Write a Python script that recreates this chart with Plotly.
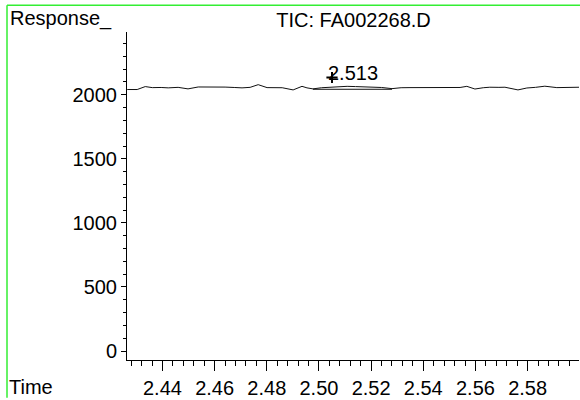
import plotly.graph_objects as go

# ---- data ----
time_min = [2.4265, 2.4303, 2.4334, 2.4361, 2.4395, 2.4422, 2.4460, 2.4498, 2.4537, 2.4570,
            2.4605, 2.4640, 2.4675, 2.4705, 2.4736, 2.4767, 2.4801, 2.4830, 2.4859, 2.4901,
            2.4935, 2.4954, 2.4977, 2.5010, 2.5043, 2.5076, 2.5108, 2.5140, 2.5177, 2.5210,
            2.5240, 2.5280, 2.5315, 2.5349, 2.5390, 2.5430, 2.5464, 2.5500, 2.5541, 2.5567,
            2.5598, 2.5630, 2.5655, 2.5690, 2.5713, 2.5763, 2.5797, 2.5830, 2.5866, 2.5912,
            2.5950, 2.6000]
response = [2041, 2041, 2064, 2056, 2057, 2054, 2058, 2046, 2061, 2062,
            2061, 2060, 2057, 2054, 2058, 2079, 2056, 2057, 2055, 2038,
            2066, 2054, 2046, 2055, 2060, 2063, 2066, 2064, 2063, 2060,
            2057, 2048, 2055, 2056, 2055, 2056, 2057, 2056, 2057, 2066,
            2045, 2055, 2059, 2058, 2059, 2038, 2053, 2058, 2067, 2056,
            2058, 2059]
baseline_time = [2.4977, 2.5280]
baseline_resp = [2043, 2043]
peak_rt = 2.513
peak_label_resp = 2170
apex_mark_time = [2.5050]
apex_mark_resp = [2135]
x_ticks = [2.44, 2.46, 2.48, 2.50, 2.52, 2.54, 2.56, 2.58]
y_ticks = [0, 500, 1000, 1500, 2000]

FONT = "Liberation Sans, Arial, sans-serif"
W, H = 580, 400
L, R, T, B = 127, 1, 32, 38
pw, ph = W - L - R, H - T - B

def px2paper_x(px):
    return (px - L) / pw

def px2paper_y(py):
    return (H - B - py) / ph

fig = go.Figure()
fig.add_trace(go.Scatter(x=time_min, y=response, mode="lines",
                         line=dict(color="#111111", width=1), hoverinfo="skip", showlegend=False))
fig.add_trace(go.Scatter(x=baseline_time, y=baseline_resp, mode="lines",
                         line=dict(color="#111111", width=1), hoverinfo="skip", showlegend=False))
fig.add_trace(go.Scatter(x=apex_mark_time, y=apex_mark_resp, mode="markers",
                         marker=dict(symbol="cross-thin", size=8, line=dict(color="black", width=2)),
                         hoverinfo="skip", showlegend=False))

fig.add_annotation(x=peak_rt, y=peak_label_resp, xref="x", yref="y", text=f"{peak_rt:.3f}",
                   showarrow=False, font=dict(family=FONT, size=20, color="black"),
                   xanchor="center", yanchor="middle")

fig.add_annotation(x=px2paper_x(8), y=px2paper_y(18), xref="paper", yref="paper", text="Response_",
                   showarrow=False, font=dict(family=FONT, size=20, color="black"),
                   xanchor="left", yanchor="middle")
fig.add_annotation(x=px2paper_x(7), y=px2paper_y(389), xref="paper", yref="paper", text="Time",
                   showarrow=False, font=dict(family=FONT, size=20, color="black"),
                   xanchor="left", yanchor="middle")

# green frame (left and top)
fig.add_shape(type="line", xref="paper", yref="paper",
              x0=px2paper_x(7), x1=px2paper_x(7), y0=px2paper_y(5), y1=px2paper_y(400),
              line=dict(color="#33ee33", width=1.5))
fig.add_shape(type="line", xref="paper", yref="paper",
              x0=px2paper_x(7), x1=px2paper_x(580), y0=px2paper_y(5), y1=px2paper_y(5),
              line=dict(color="#33ee33", width=1.5))

fig.update_layout(
    width=W, height=H,
    margin=dict(l=L, r=R, t=T, b=B),
    paper_bgcolor="white", plot_bgcolor="white",
    title=dict(text="TIC: FA002268.D", x=353.5 / W, xanchor="center",
               y=1 - 19.5 / H, yanchor="middle",
               font=dict(family=FONT, size=20, color="black")),
    font=dict(family=FONT, size=20, color="black"),
    xaxis=dict(range=[2.4264, 2.5997], tickvals=x_ticks, ticktext=[f"{v:.2f}" for v in x_ticks],
               showgrid=False, zeroline=False, showline=True, linecolor="black", linewidth=1,
               ticks="outside", ticklen=10, tickcolor="black", tickwidth=1,
               minor=dict(dtick=0.004, tick0=2.428, ticklen=5, ticks="outside",
                          tickcolor="black", showgrid=False),
               tickfont=dict(family=FONT, size=20, color="black")),
    yaxis=dict(range=[-70, 2490], tickvals=y_ticks, ticktext=[str(v) for v in y_ticks],
               showgrid=False, zeroline=False, showline=True, linecolor="black", linewidth=1,
               ticks="outside", ticklen=5, tickcolor="black", tickwidth=1,
               minor=dict(dtick=100, tick0=0, ticklen=3, ticks="outside",
                          tickcolor="black", showgrid=False),
               tickfont=dict(family=FONT, size=20, color="black")),
)

fig.write_html("out.html", config={"displayModeBar": False},
               post_script="document.body.style.margin='0';document.body.style.overflow='hidden';")
